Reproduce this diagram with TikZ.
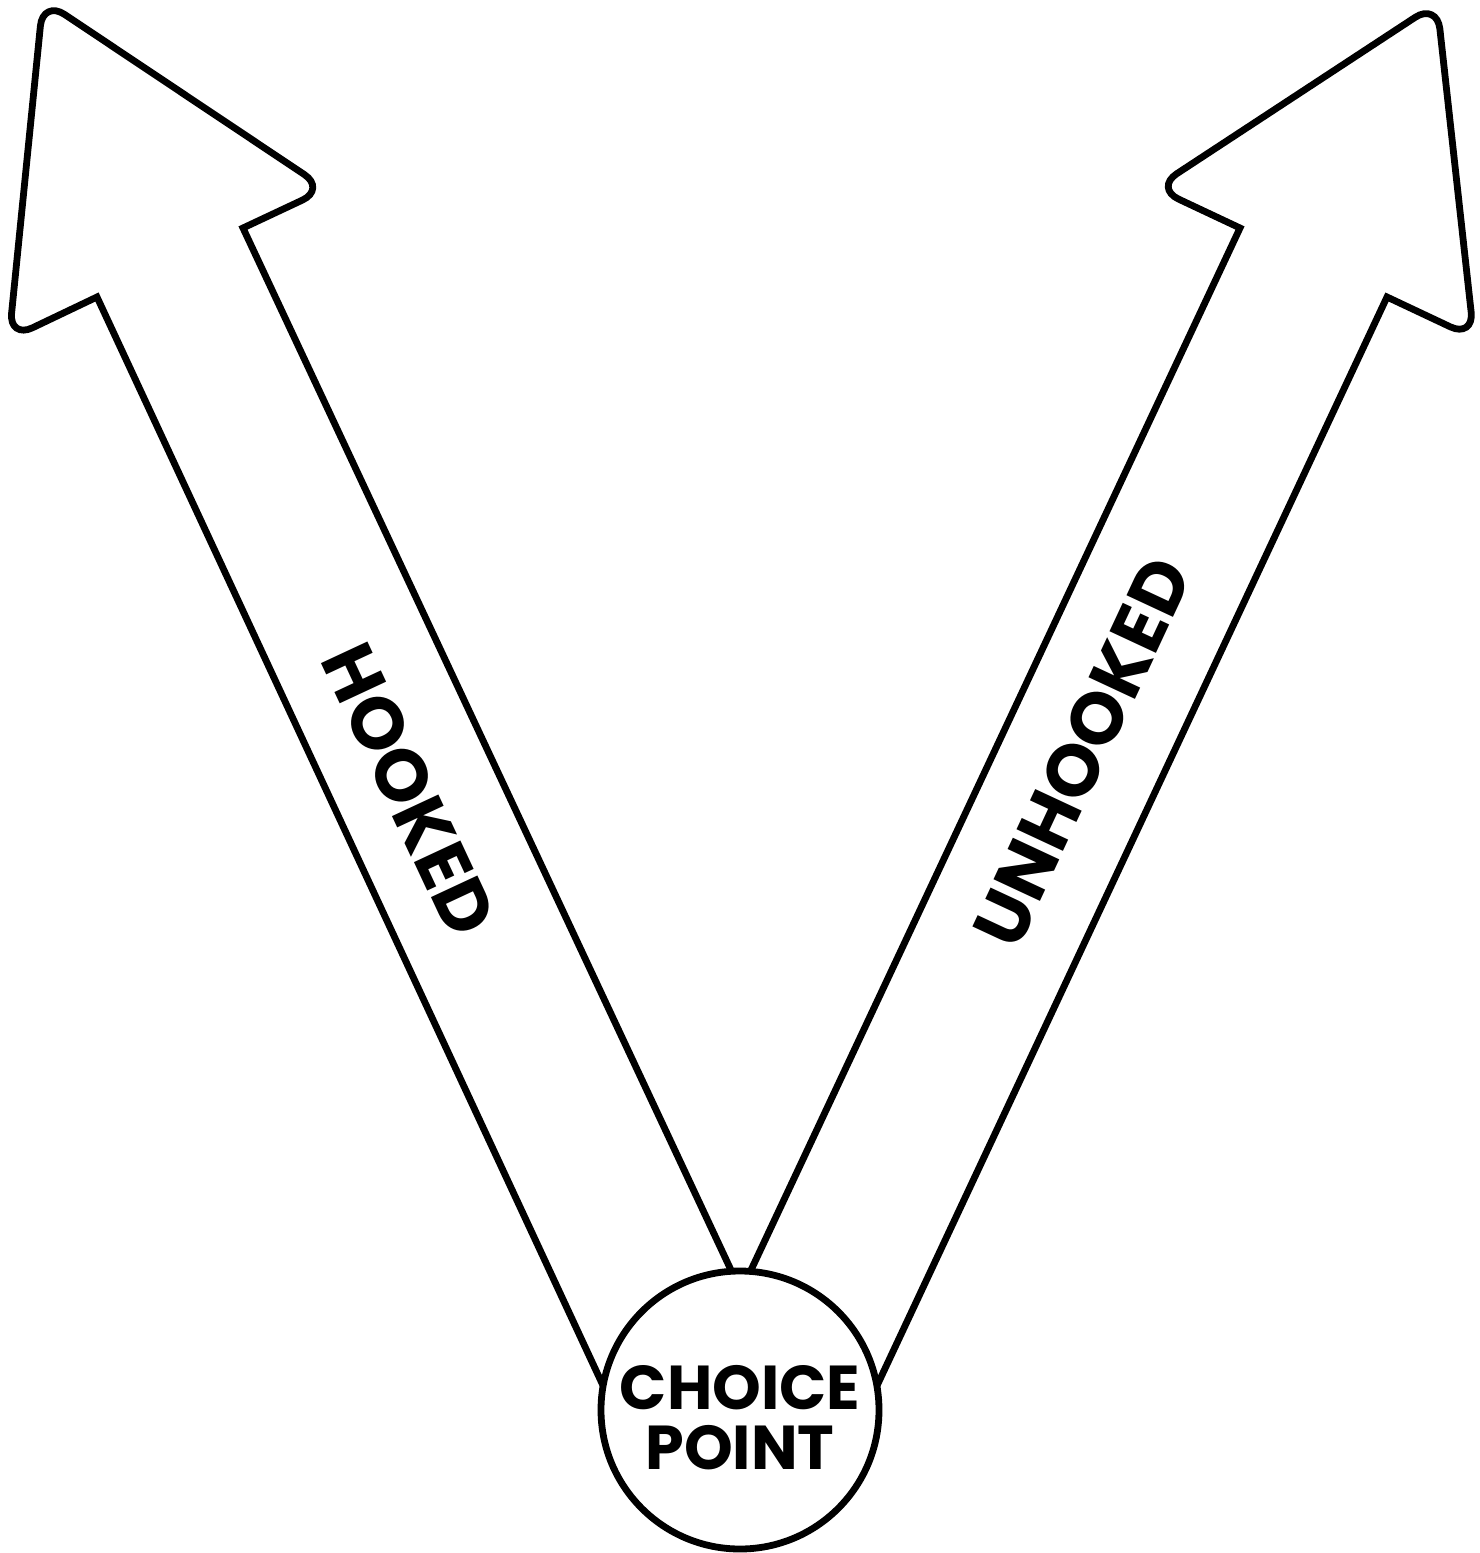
\documentclass[tikz,border=0pt]{standalone}
\usepackage{fontspec}
\setmainfont{Poppins}
\begin{document}
\begin{tikzpicture}[x=0.5pt,y=-0.5pt,
  outline/.style={draw=black, line width=3.4pt, line join=miter},
  lbl/.style={font=\fontsize{36.5}{40}\selectfont\bfseries, inner sep=0pt},
  cplbl/.style={font=\fontsize{31}{30}\selectfont\bfseries, inner sep=0pt, align=center}]
\useasboundingbox (0,0) rectangle (1479,1553);
% left arrow (HOOKED)
\coordinate (la) at (613,1407);
\coordinate (lb) at (97,297);
\coordinate (lc) at (9,339);
\coordinate (ld) at (43,0);
\coordinate (le) at (326,189);
\coordinate (lf) at (243,228);
\coordinate (lg) at (738,1285);
\draw[outline] (la) -- (lb) [rounded corners=13pt] -- (lc) -- (ld) -- (le) [sharp corners] -- (lf) -- (lg);
% right arrow (UNHOOKED)
\coordinate (ra) at (744,1285);
\coordinate (rb) at (1240,228);
\coordinate (rc) at (1155,188);
\coordinate (rd) at (1437,3);
\coordinate (re) at (1474,338);
\coordinate (rf) at (1387,297);
\coordinate (rg) at (867,1407);
\draw[outline] (ra) -- (rb) [rounded corners=13pt] -- (rc) -- (rd) -- (re) [sharp corners] -- (rf) -- (rg);
% choice point
\node[circle, draw=black, line width=3.4pt, fill=white, minimum size=139pt, inner sep=0pt] (cp) at (740,1410) {};
\node[cplbl] (cptext) at (740,1418) {CHOICE\\POINT};
% labels
\node[lbl, rotate=-65] (hooked) at (409,790) {HOOKED};
\node[lbl, rotate=65] (unhooked) at (1082,752) {UNHOOKED};
\end{tikzpicture}
\end{document}
